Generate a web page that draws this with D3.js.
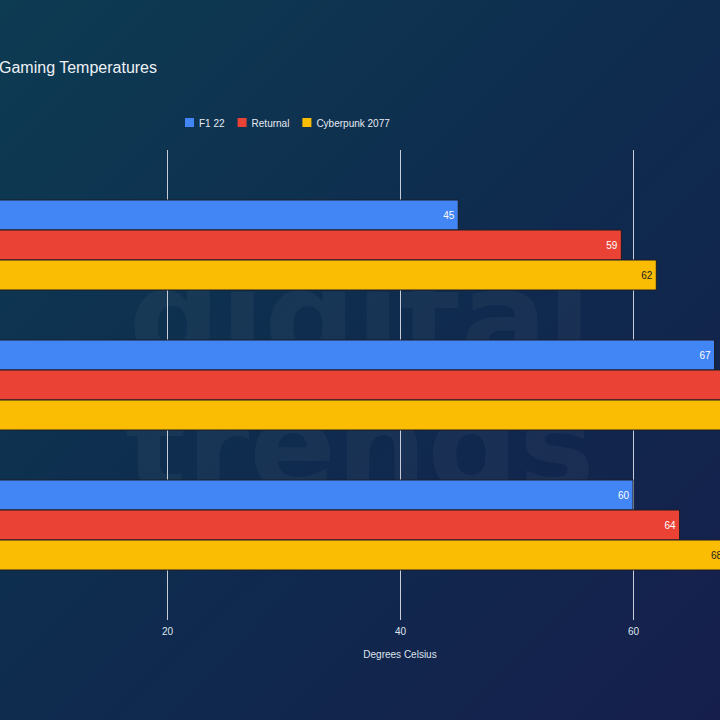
<!DOCTYPE html>
<html>
<head>
<meta charset="utf-8">
<script src="https://cdn.jsdelivr.net/npm/d3@7"></script>
<style>
  html, body { margin: 0; padding: 0; background: #0f2a4a; }
  svg { display: block; font-family: "Liberation Sans", Arial, sans-serif; }
</style>
</head>
<body>
<div class="chart"></div>
<script>
// data (the category labels are cropped out on the left)
const categories = ["CPU", "GPU", "APU"];
const series = ["F1 22", "Returnal", "Cyberpunk 2077"];
const f1 = [45, 67, 60];
const returnal = [59, 71, 64];
const cyberpunk = [62, 73, 68];
const ticks = [20, 40, 60];
const colors = ["#4285f4", "#ea4335", "#fbbc04"];

const width = 720;
const height = 720;

const svg = d3.select(".chart")
    .append("svg")
    .attr("width", width)
    .attr("height", height);

const defs = svg.append("defs");
const grad = defs.append("linearGradient")
    .attr("id", "bg")
    .attr("x1", "0").attr("y1", "0")
    .attr("x2", "1").attr("y2", "1");
grad.append("stop").attr("offset", "0%").attr("stop-color", "#0d3b52");
grad.append("stop").attr("offset", "55%").attr("stop-color", "#0f2a4e");
grad.append("stop").attr("offset", "100%").attr("stop-color", "#161f4c");

svg.append("rect")
    .attr("width", width)
    .attr("height", height)
    .attr("fill", "url(#bg)");

// watermark
const wm = svg.append("g")
    .attr("font-size", 128)
    .attr("font-weight", "bold")
    .attr("font-family", "'DejaVu Sans', sans-serif")
    .attr("fill", "#ffffff")
    .attr("opacity", 0.035)
    .attr("text-anchor", "middle");
wm.append("path"); // placeholder keeps the group non-empty
wm.append("text").attr("x", 360).attr("y", 362).text("digital");
wm.append("text").attr("x", 360).attr("y", 490).text("trends");

const x = d3.scaleLinear()
    .domain([0, 80])
    .range([-66, 866]);

const y = d3.scaleBand()
    .domain(categories)
    .range([150, 620])
    .paddingInner(50 / 140)
    .paddingOuter(50 / 140);

const ySub = d3.scaleBand()
    .domain(series)
    .range([0, y.bandwidth()]);

// gridlines
const grid = svg.append("g")
    .attr("transform", "translate(0,620)")
    .call(d3.axisBottom(x).tickValues(ticks).tickSize(-470).tickPadding(8));
grid.select(".domain").remove();
grid.selectAll(".tick line").attr("stroke", "#c8ccd6").attr("stroke-width", 1);
grid.selectAll(".tick text")
    .attr("fill", "#dfe4ec")
    .attr("font-size", 10)
    .attr("font-family", "'Liberation Sans', Arial, sans-serif");

svg.append("text")
    .attr("x", 400).attr("y", 658)
    .attr("text-anchor", "middle")
    .attr("fill", "#dfe4ec")
    .attr("font-size", 10)
    .text("Degrees Celsius");

// bars
const rows = categories.map((c, i) => ({
    category: c,
    values: [f1[i], returnal[i], cyberpunk[i]]
}));

const group = svg.selectAll("g.group")
    .data(rows)
    .join("g")
    .attr("class", "group")
    .attr("transform", d => `translate(0,${y(d.category)})`);

const bar = group.selectAll("g.bar")
    .data(d => d.values.map((v, j) => ({ name: series[j], value: v, j: j })))
    .join("g")
    .attr("class", "bar");

bar.append("rect")
    .attr("x", x(0))
    .attr("y", d => ySub(d.name))
    .attr("width", d => x(d.value) - x(0))
    .attr("height", ySub.bandwidth())
    .attr("fill", d => colors[d.j])
    .attr("stroke", "#1c1c24")
    .attr("stroke-width", 1);

// value labels; the ones whose bar runs far past the crop are not visible
bar.filter(d => x(d.value) - 4 < width + 10)
    .append("text")
    .attr("x", d => x(d.value) - 4)
    .attr("y", d => ySub(d.name) + ySub.bandwidth() / 2)
    .attr("dy", "0.35em")
    .attr("text-anchor", "end")
    .attr("font-size", 10)
    .attr("fill", d => d.j === 2 ? "#222222" : "#ffffff")
    .text(d => d.value);

// title
svg.append("text")
    .attr("x", -1).attr("y", 73)
    .attr("fill", "#eef2f6")
    .attr("font-size", 16)
    .text("Gaming Temperatures");

// legend
const legend = svg.append("g")
    .attr("transform", "translate(185,118)");
let lx = 0;
series.forEach((s, i) => {
    const item = legend.append("g").attr("transform", `translate(${lx},0)`);
    item.append("rect")
        .attr("width", 9).attr("height", 9)
        .attr("fill", colors[i]);
    const t = item.append("text")
        .attr("x", 14).attr("y", 8.5)
        .attr("fill", "#e6eaf0")
        .attr("font-size", 10)
        .text(s);
    lx += 14 + t.node().getComputedTextLength() + 13;
});
</script>
</body>
</html>
